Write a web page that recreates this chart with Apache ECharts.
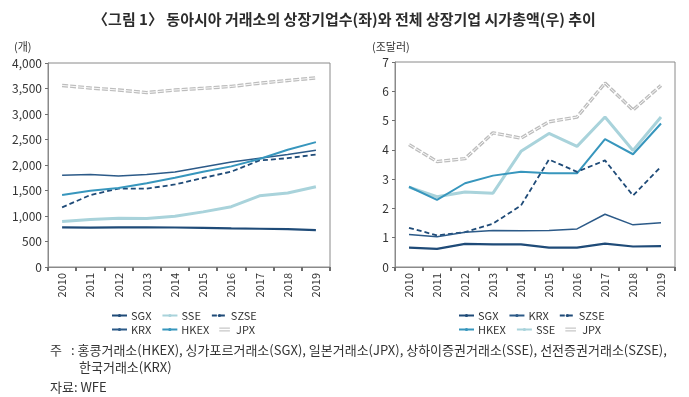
<!DOCTYPE html>
<html>
<head>
<meta charset="utf-8">
<script src="https://cdn.jsdelivr.net/npm/echarts@6/dist/echarts.min.js"></script>
<style>
	html, body { margin: 0; padding: 0; background: #fff; }
	#chart { width: 689px; height: 397px; }
</style>
</head>
<body>
<div id="chart"></div>
<script>
const years = ['2010', '2011', '2012', '2013', '2014', '2015', '2016', '2017', '2018', '2019'];

// 상장기업수 (개)
const countSGX = [778, 773, 776, 776, 775, 769, 757, 750, 741, 723];
const countKRX = [1798, 1816, 1784, 1813, 1864, 1961, 2059, 2134, 2207, 2290];
const countHKEX = [1413, 1496, 1547, 1643, 1752, 1866, 1973, 2118, 2300, 2449];
const countSZSE = [1169, 1411, 1536, 1536, 1618, 1746, 1870, 2089, 2134, 2205];
const countSSE = [894, 931, 954, 953, 995, 1081, 1182, 1396, 1450, 1572];
const countJPX = [3560, 3510, 3470, 3420, 3470, 3504, 3541, 3604, 3657, 3708];

// 시가총액 (조달러)
const capSGX = [0.66, 0.62, 0.79, 0.77, 0.77, 0.66, 0.66, 0.80, 0.70, 0.71];
const capKRX = [1.11, 1.03, 1.19, 1.25, 1.24, 1.25, 1.30, 1.80, 1.44, 1.51];
const capHKEX = [2.74, 2.29, 2.86, 3.12, 3.25, 3.20, 3.20, 4.37, 3.85, 4.90];
const capSZSE = [1.34, 1.08, 1.19, 1.48, 2.10, 3.67, 3.25, 3.64, 2.44, 3.43];
const capSSE = [2.73, 2.40, 2.56, 2.52, 3.95, 4.56, 4.12, 5.12, 3.98, 5.12];
const capJPX = [4.18, 3.60, 3.70, 4.58, 4.40, 4.96, 5.12, 6.28, 5.36, 6.20];

const FONT = '"Noto Sans CJK KR", "Noto Sans", sans-serif';
const NAVY = '#1f4b78';
const NAVY_THIN = '#2c5a88';
const HKEX_BLUE = '#3796bd';
const SSE_BLUE = '#a9d3db';
const JPX_GRAY = '#bdbdbd';
const DOUBLE_ICON = 'path://M0,0h24v3h-24z M0,6h24v3h-24z';

function styleFor(name) {
	switch (name) {
		case 'SGX': return { color: NAVY, width: 2.2, type: 'solid' };
		case 'KRX': return { color: NAVY_THIN, width: 1.5, type: 'solid' };
		case 'SZSE': return { color: NAVY, width: 1.8, type: [5, 3] };
		case 'HKEX': return { color: HKEX_BLUE, width: 2, type: 'solid' };
		case 'SSE': return { color: SSE_BLUE, width: 3, type: 'solid' };
		case 'JPX': return { color: JPX_GRAY, width: 3.4, type: [6, 2] };
	}
}

function makeSeries(name, data, idx) {
	const s = styleFor(name);
	const list = [{
		name: name,
		type: 'line',
		xAxisIndex: idx,
		yAxisIndex: idx,
		data: data,
		symbol: 'none',
		color: s.color,
		lineStyle: { color: s.color, width: s.width, type: s.type },
		z: name === 'JPX' ? 1 : 2
	}];
	if (name === 'JPX') {
		// inner white stroke gives the double-line look
		list.push({
			name: 'JPX_inner',
			type: 'line',
			xAxisIndex: idx,
			yAxisIndex: idx,
			data: data,
			symbol: 'none',
			silent: true,
			lineStyle: { color: '#ffffff', width: 0.9, type: [6, 2] },
			z: 1
		});
	}
	return list;
}

function legendRow(names, left, top) {
	return {
		data: names.map(n => n === 'JPX' ? { name: n, icon: DOUBLE_ICON, itemStyle: { color: '#c8c8c8' } } : n),
		left: left,
		top: top,
		orient: 'horizontal',
		itemWidth: 15,
		itemHeight: 4,
		itemGap: 10,
		selectedMode: false,
		textStyle: { fontFamily: FONT, fontSize: 11, color: '#333', width: 33, padding: [0, 0, 0, -1] }
	};
}

function xAxisFor(idx) {
	return {
		type: 'category',
		gridIndex: idx,
		data: years,
		boundaryGap: true,
		axisLine: { lineStyle: { color: '#8a8a8a', width: 1 } },
		axisTick: { show: true, length: 4, lineStyle: { color: '#6e6e6e', width: 2 }, alignWithLabel: false },
		axisLabel: { rotate: 90, fontFamily: FONT, fontSize: 11, color: '#333', margin: 6, interval: 0 }
	};
}

function yAxisFor(idx, max, interval, formatter) {
	return {
		type: 'value',
		gridIndex: idx,
		min: 0,
		max: max,
		interval: interval,
		splitLine: { show: false },
		axisLine: { show: true, lineStyle: { color: '#8a8a8a', width: 1 } },
		axisTick: { show: true, length: 3, lineStyle: { color: '#6e6e6e' } },
		axisLabel: { fontFamily: FONT, fontSize: 12, color: '#333', margin: 6, formatter: formatter }
	};
}

const chart = echarts.init(document.getElementById('chart'), null, { renderer: 'canvas' });

const option = {
	animation: false,
	backgroundColor: '#fff',
	title: {
		text: '〈그림 1〉 동아시아 거래소의 상장기업수(좌)와 전체 상장기업 시가총액(우) 추이',
		left: 'center',
		top: 7,
		textStyle: { fontFamily: FONT, fontSize: 15, fontWeight: 'bold', color: '#2b2b2b' }
	},
	grid: [
		{ left: 48, top: 63, width: 282, height: 204, show: true, borderColor: '#8a8a8a', borderWidth: 1 },
		{ left: 395, top: 62, width: 280, height: 205, show: true, borderColor: '#8a8a8a', borderWidth: 1 }
	],
	xAxis: [xAxisFor(0), xAxisFor(1)],
	yAxis: [
		yAxisFor(0, 4000, 500, v => v.toLocaleString('en-US')),
		yAxisFor(1, 7, 1, v => v)
	],
	legend: [
		legendRow(['SGX', 'SSE', 'SZSE'], 106, 305),
		legendRow(['KRX', 'HKEX', 'JPX'], 106, 319),
		legendRow(['SGX', 'KRX', 'SZSE'], 453, 305),
		legendRow(['HKEX', 'SSE', 'JPX'], 453, 319)
	],
	graphic: [
		{ type: 'text', left: 14, top: 41, style: { text: '(개)', font: '11px ' + FONT, fill: '#333' } },
		{ type: 'text', left: 372, top: 41, style: { text: '(조달러)', font: '11px ' + FONT, fill: '#333' } },
		{ type: 'text', left: 50, top: 344, style: { text: '주', font: '13px ' + FONT, fill: '#333' } },
		{ type: 'text', left: 71, top: 344, style: { text: ': 홍콩거래소(HKEX), 싱가포르거래소(SGX), 일본거래소(JPX), 상하이증권거래소(SSE), 선전증권거래소(SZSE),', font: '13px ' + FONT, fill: '#333' } },
		{ type: 'text', left: 79, top: 361, style: { text: '한국거래소(KRX)', font: '13px ' + FONT, fill: '#333' } },
		{ type: 'text', left: 50, top: 381, style: { text: '자료: WFE', font: '13px ' + FONT, fill: '#333' } }
	],
	series: [
		...makeSeries('JPX', countJPX, 0),
		...makeSeries('SSE', countSSE, 0),
		...makeSeries('SGX', countSGX, 0),
		...makeSeries('KRX', countKRX, 0),
		...makeSeries('SZSE', countSZSE, 0),
		...makeSeries('HKEX', countHKEX, 0),
		...makeSeries('JPX', capJPX, 1),
		...makeSeries('SSE', capSSE, 1),
		...makeSeries('HKEX', capHKEX, 1),
		...makeSeries('SZSE', capSZSE, 1),
		...makeSeries('KRX', capKRX, 1),
		...makeSeries('SGX', capSGX, 1)
	]
};

chart.setOption(option);
</script>
</body>
</html>
